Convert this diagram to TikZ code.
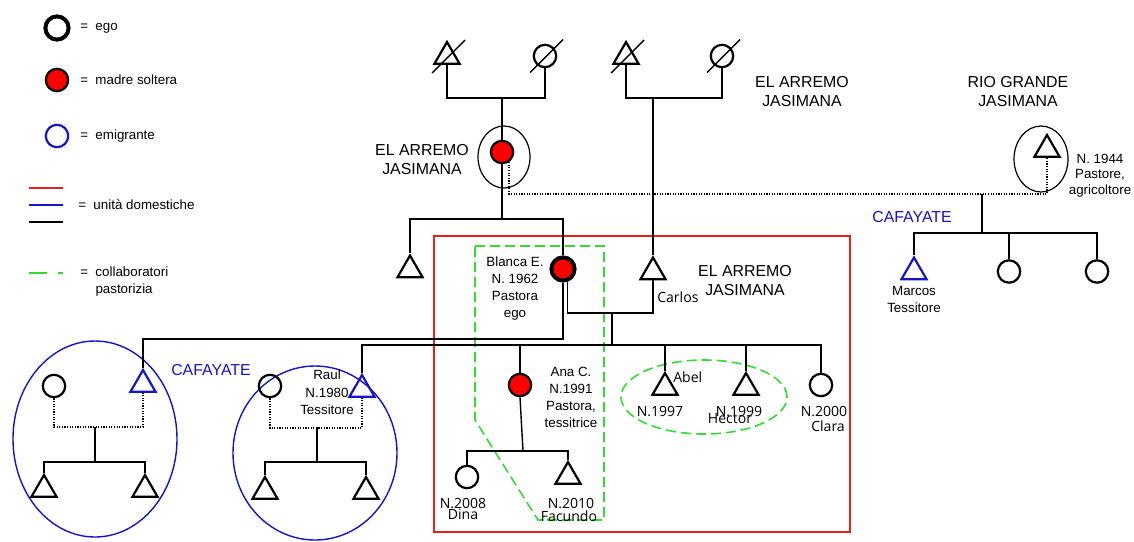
\documentclass[tikz,border=0pt]{standalone}
\usepackage{fontspec}
\setmainfont{Liberation Sans}
\newfontfamily\opensans{Open Sans}
\usepackage{tikz}
\usetikzlibrary{shapes.geometric}
\definecolor{SingleRed}{RGB}{255,0,0}
\definecolor{HouseRed}{RGB}{235,30,30}
\definecolor{EmigBlue}{RGB}{20,20,200}
\definecolor{HerdGreen}{RGB}{50,220,50}
\tikzset{
  kin/.style={draw, inner sep=0pt, line width=0.55mm},
  male/.style={kin, regular polygon, regular polygon sides=3, minimum size=7.25mm},
  female/.style={kin, circle, minimum size=5.6mm},
  single/.style={female, fill=SingleRed},
  ego/.style={line width=1mm, minimum size=5.8mm},
  migrant/.style={draw=EmigBlue},
  tie/.style={line width=0.35mm},
  dotunion/.style={densely dotted, line width=0.3mm},
  deadmark/.style={line width=0.35mm},
  region/.style={align=center, inner sep=0pt, font=\fontsize{11.3}{13.5}\selectfont},
  note/.style={align=center, inner sep=0pt, font=\fontsize{9.5}{12}\selectfont},
  tag/.style={inner sep=0pt, font=\opensans\fontsize{10}{12}\selectfont},
  legtxt/.style={anchor=west, align=left, inner sep=0pt, font=\fontsize{9.5}{12}\selectfont},
  household/.style={ellipse, draw=EmigBlue, line width=0.35mm},
  homeland/.style={ellipse, draw, line width=0.3mm},
  herd/.style={draw=HerdGreen, line width=0.4mm, dash pattern=on 2.5mm off 1.25mm},
  casabox/.style={rectangle, draw=HouseRed, line width=0.5mm, minimum width=104mm, minimum height=74mm}
}

\begin{document}
\begin{tikzpicture}[x=0.25mm, y=-0.25mm]
  \useasboundingbox (0,0) rectangle (1134,541);

  % legend
  \node[female, ego] (legego) at (57,28) {};
  \node[single] (legsingle) at (57,80) {};
  \node[female, migrant] (legmigr) at (57,136) {};
  \node[legtxt] (legegot) at (80,28) {=~~ego};
  \node[legtxt] (legsinglet) at (80,80) {=~~madre soltera};
  \node[legtxt] (legmigrt) at (80,136) {=~~emigrante};
  \draw[tie, HouseRed] (29,188) -- (63,188);
  \draw[tie, EmigBlue] (29,205) -- (63,205);
  \draw[tie] (29,222) -- (63,222);
  \node[legtxt] (leghouset) at (78,205) {=~~unità domestiche};
  \draw[HerdGreen, line width=0.45mm, dash pattern=on 4.5mm off 2.75mm] (29,273) -- (63,273);
  \node[legtxt] (legherdt) at (80,281.5) {=~~collaboratori\\\phantom{=~~}pastorizia};

  % groups
  \node[casabox] (casa) at (642,384) {};
  \draw[herd] (475,246) -- (604,246) -- (604,520) -- (538,520) -- (475,420) -- cycle;
  \node[herd, ellipse, minimum width=41.5mm, minimum height=18.5mm] (collab) at (704,397) {};
  \node[homeland, minimum width=13mm, minimum height=15.5mm] (mbland) at (504,157) {};
  \node[homeland, minimum width=13.5mm, minimum height=16.5mm] (rgland) at (1041,159) {};
  \node[household, minimum width=41mm, minimum height=49mm] (cafa1) at (95,439) {};
  \node[household, minimum width=41mm, minimum height=43.5mm] (cafa2) at (315,453) {};

  % grandparents
  \node[male] (gf1) at (447,56.5) {};
  \node[female] (gm1) at (545,56) {};
  \node[male] (gf2) at (626,56.5) {};
  \node[female] (gm2) at (722,56) {};
  \foreach \n in {gf1,gm1,gf2,gm2}
    \draw[deadmark] (\n.center) ++(-15,16.5) -- ++(33,-33);
  \coordinate (j1) at (502,98);
  \coordinate (j2) at (653,98);
  \draw[tie] (gf1.south) |- (j1) -| (gm1.south);
  \draw[tie] (gf2.south) |- (j2) -| (gm2.south);

  % parents
  \node[single] (mb) at (502,152) {};
  \node[male] (rg) at (1047,149.5) {};
  \node[male] (lt) at (410,270) {};
  \node[single, ego] (blanca) at (563,269) {};
  \node[male] (carlos) at (653,272) {};
  \draw[tie] (j1) -- (mb.north);
  \draw[tie] (j2) -- (carlos.north);
  \coordinate (j3) at (502,219);
  \draw[tie] (mb.south) -- (j3);
  \draw[tie] (lt.north) |- (j3) -| (blanca.north);

  % rio grande line
  \coordinate (jd) at (982,194);
  \coordinate (j4) at (982,233);
  \coordinate (j5) at (1009,233);
  \node[male, migrant] (marcos) at (914,272) {};
  \node[female] (rgd1) at (1009,271.5) {};
  \node[female] (rgd2) at (1097,271.5) {};
  \draw[dotunion] (mb.-55) |- (jd) -| (rg.south);
  \draw[tie] (jd) -- (j4);
  \draw[tie] (marcos.north) |- (j4) -| (rgd2.north);
  \draw[tie] (j5) -- (rgd1.north);

  % children of blanca
  \node[male, migrant] (son1) at (143,384.5) {};
  \node[male, migrant] (raul) at (362,389.5) {};
  \node[single] (ana) at (520,385) {};
  \node[male] (abel) at (665,387.5) {};
  \node[male] (hector) at (746,387.5) {};
  \node[female] (clara) at (821,385) {};
  \coordinate (j6) at (612,313);
  \coordinate (j7) at (612,345);
  \coordinate (j8) at (563,339);
  \coordinate (ka) at (520,345);
  \coordinate (kb) at (665,345);
  \coordinate (kh) at (746,345);
  \draw[tie] (blanca.-70) |- (j6) -| (carlos.south);
  \draw[tie] (j6) -- (j7);
  \draw[tie] (raul.north) |- (j7) -| (clara.north);
  \draw[tie] (ka) -- (ana.north);
  \draw[tie] (kb) -- (abel.north);
  \draw[tie] (kh) -- (hector.north);
  \draw[tie] (son1.north) |- (j8) -- (blanca.south);

  % cafayate households
  \node[female] (w1) at (54,386) {};
  \node[male] (s1k1) at (44,489.5) {};
  \node[male] (s1k2) at (145,489.5) {};
  \coordinate (j9) at (95,427);
  \coordinate (j10) at (95,462);
  \draw[dotunion] (w1.south) |- (j9) -| (son1.south);
  \draw[tie] (j9) -- (j10);
  \draw[tie] (s1k1.north) |- (j10) -| (s1k2.north);
  \node[female] (w2) at (270,386) {};
  \node[male] (rk1) at (265,491.5) {};
  \node[male] (rk2) at (366,491.5) {};
  \coordinate (j11) at (317,428);
  \coordinate (j12) at (317,462);
  \draw[dotunion] (w2.south) |- (j11) -| (raul.south);
  \draw[tie] (j11) -- (j12);
  \draw[tie] (rk1.north) |- (j12) -| (rk2.north);

  % ana's children
  \node[female] (dina) at (467,477) {};
  \node[male] (facundo) at (568,476.5) {};
  \coordinate (j13) at (523,451);
  \draw[tie] (ana.south) -- (j13);
  \draw[tie] (dina.north) |- (j13) -| (facundo.north);

  % labels
  \node[region] (mbplace) at (422,160) {EL ARREMO\\JASIMANA};
  \node[region] (topplace) at (802,92) {EL ARREMO\\JASIMANA};
  \node[region] (rgplace) at (1018,91.5) {RIO GRANDE\\JASIMANA};
  \node[region] (casaplace) at (745,280.5) {EL ARREMO\\JASIMANA};
  \node[region, text=EmigBlue] (cafaplace1) at (211,370) {CAFAYATE};
  \node[region, text=EmigBlue] (cafaplace2) at (912,217) {CAFAYATE};
  \node[note, font=\fontsize{9.5}{11}\selectfont] (rgnote) at (1100,175.5) {N. 1944\\Pastore,\\agricoltore};
  \node[note, font=\fontsize{9.5}{12.1}\selectfont] (marcosnote) at (914,299.5) {Marcos\\Tessitore};
  \node[note, font=\fontsize{9.5}{12.1}\selectfont] (blancanote) at (515,289) {Blanca E.\\N. 1962\\Pastora\\ego};
  \node[note, font=\fontsize{9.5}{12.4}\selectfont] (raulnote) at (327,392.5) {Raul\\N.1980\\Tessitore};
  \node[note, font=\fontsize{9.5}{12.1}\selectfont] (ananote) at (571,397) {Ana C.\\N.1991\\Pastora,\\tessitrice};
  \node[tag, anchor=west] (carlost) at (657,297) {Carlos};
  \node[tag, anchor=west] (abelt) at (673,377) {Abel};
  \node[tag] (abeln) at (660,411) {N.1997};
  \node[tag] (hectorn) at (739,411) {N.1999};
  \node[tag] (hectort) at (730,419) {Hector};
  \node[tag] (claran) at (824,411) {N.2000};
  \node[tag] (clarat) at (828,426) {Clara};
  \node[tag] (dinan) at (463,503) {N.2008};
  \node[tag] (dinat) at (463,514) {Dina};
  \node[tag] (facundon) at (571,503) {N.2010};
  \node[tag] (facundot) at (569,516) {Facundo};
\end{tikzpicture}
\end{document}
